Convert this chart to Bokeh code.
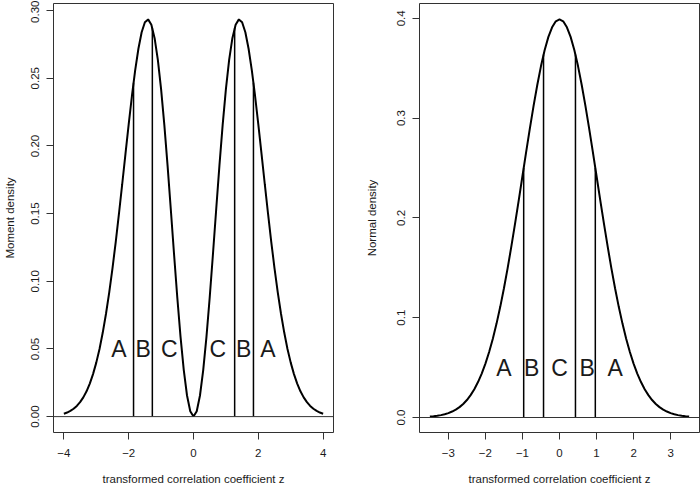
from bokeh.plotting import figure
from bokeh.layouts import row
from bokeh.models import Range1d, FixedTicker, Span, BoxAnnotation
from bokeh.core.properties import value
from bokeh.embed import file_html
from bokeh.resources import INLINE

# ---- Left panel: moment density ----
moment_z = [-4.0, -3.9, -3.8, -3.7, -3.6, -3.5, -3.4, -3.3, -3.2, -3.1, -3.0, -2.9,
            -2.8, -2.7, -2.6, -2.5, -2.4, -2.3, -2.2, -2.1, -2.0,
            -1.9, -1.8, -1.7, -1.6, -1.5, -1.4, -1.3, -1.2, -1.1, -1.0, -0.9, -0.8,
            -0.7, -0.6, -0.5, -0.4, -0.3, -0.2, -0.1, 0.0, 0.1, 0.2, 0.3, 0.4, 0.5,
            0.6, 0.7, 0.8, 0.9, 1.0, 1.1, 1.2, 1.3, 1.4, 1.5, 1.6, 1.7, 1.8, 1.9,
            2.0, 2.1, 2.2, 2.3, 2.4, 2.5, 2.6, 2.7, 2.8, 2.9, 3.0, 3.1, 3.2, 3.3,
            3.4, 3.5, 3.6, 3.7, 3.8, 3.9, 4.0]
moment_d = [0.0021, 0.0030, 0.0042, 0.0058, 0.0079, 0.0107, 0.0142, 0.0187, 0.0244,
            0.0314, 0.0399, 0.0500, 0.0621, 0.0760, 0.0918, 0.1096, 0.1290, 0.1499,
            0.1717, 0.1940, 0.2160, 0.2369, 0.2558, 0.2718, 0.2840, 0.2914, 0.2935,
            0.2896, 0.2796, 0.2636, 0.2420, 0.2155, 0.1854, 0.1530, 0.1200, 0.0880,
            0.0589, 0.0343, 0.0156, 0.0040, 0.0, 0.0040, 0.0156, 0.0343, 0.0589,
            0.0880, 0.1200, 0.1530, 0.1854, 0.2155, 0.2420, 0.2636, 0.2796, 0.2896,
            0.2935, 0.2914, 0.2840, 0.2718, 0.2558, 0.2369, 0.2160, 0.1940, 0.1717,
            0.1499, 0.1290, 0.1096, 0.0918, 0.0760, 0.0621, 0.0500, 0.0399, 0.0314,
            0.0244, 0.0187, 0.0142, 0.0107, 0.0079, 0.0058, 0.0042, 0.0030, 0.0021]
moment_cut_z = [-1.85, -1.27, 1.27, 1.85]
moment_cut_h = [0.2466, 0.2873, 0.2873, 0.2466]
moment_lab_x = [-2.3, -1.55, -0.75, 0.75, 1.55, 2.3]
moment_lab_y = [0.05, 0.05, 0.05, 0.05, 0.05, 0.05]
moment_labels = ["A", "B", "C", "C", "B", "A"]
moment_xticks = [-4, -2, 0, 2, 4]
moment_xtick_labels = ["\u22124", "\u22122", "0", "2", "4"]
moment_yticks = [0.0, 0.05, 0.10, 0.15, 0.20, 0.25, 0.30]
moment_ytick_labels = ["0.00", "0.05", "0.10", "0.15", "0.20", "0.25", "0.30"]

# ---- Right panel: normal density ----
normal_z = [-3.5, -3.4, -3.3, -3.2, -3.1, -3.0, -2.9, -2.8, -2.7, -2.6, -2.5, -2.4,
            -2.3, -2.2, -2.1, -2.0, -1.9, -1.8, -1.7, -1.6, -1.5,
            -1.4, -1.3, -1.2, -1.1, -1.0, -0.9, -0.8, -0.7, -0.6, -0.5, -0.4, -0.3,
            -0.2, -0.1, 0.0, 0.1, 0.2, 0.3, 0.4, 0.5, 0.6, 0.7, 0.8, 0.9, 1.0, 1.1,
            1.2, 1.3, 1.4, 1.5, 1.6, 1.7, 1.8, 1.9, 2.0, 2.1, 2.2, 2.3, 2.4, 2.5,
            2.6, 2.7, 2.8, 2.9, 3.0, 3.1, 3.2, 3.3, 3.4, 3.5]
normal_d = [0.0009, 0.0012, 0.0017, 0.0024, 0.0033, 0.0044, 0.0060, 0.0079, 0.0104,
            0.0136, 0.0175, 0.0224, 0.0283, 0.0355, 0.0440, 0.0540, 0.0656, 0.0790,
            0.0941, 0.1109, 0.1295, 0.1497, 0.1714, 0.1942, 0.2179, 0.2420, 0.2661,
            0.2897, 0.3123, 0.3332, 0.3521, 0.3683, 0.3814, 0.3910, 0.3970, 0.3989,
            0.3970, 0.3910, 0.3814, 0.3683, 0.3521, 0.3332, 0.3123, 0.2897, 0.2661,
            0.2420, 0.2179, 0.1942, 0.1714, 0.1497, 0.1295, 0.1109, 0.0941, 0.0790,
            0.0656, 0.0540, 0.0440, 0.0355, 0.0283, 0.0224, 0.0175, 0.0136, 0.0104,
            0.0079, 0.0060, 0.0044, 0.0033, 0.0024, 0.0017, 0.0012, 0.0009]
normal_cut_z = [-0.967, -0.431, 0.431, 0.967]
normal_cut_h = [0.2501, 0.3637, 0.3637, 0.2501]
normal_lab_x = [-1.5, -0.75, 0.0, 0.75, 1.5]
normal_lab_y = [0.05, 0.05, 0.05, 0.05, 0.05]
normal_labels = ["A", "B", "C", "B", "A"]
normal_xticks = [-3, -2, -1, 0, 1, 2, 3]
normal_xtick_labels = ["\u22123", "\u22122", "\u22121", "0", "1", "2", "3"]
normal_yticks = [0.0, 0.1, 0.2, 0.3, 0.4]
normal_ytick_labels = ["0.0", "0.1", "0.2", "0.3", "0.4"]

FONT = "Liberation Sans"
TXT = "#1a1a1a"


def make_panel(xs, ys, cut_z, cut_h, lab_x, lab_y, labels, xticks, xtl, yticks, ytl,
               ylabel, width, border_left, border_right, ylab_standoff):
    x_pad = (max(xs) - min(xs)) * 0.04
    y_pad = (max(ys) - min(ys)) * 0.04
    p = figure(width=width, height=487, output_backend="svg", toolbar_location=None,
               x_range=Range1d(min(xs) - x_pad, max(xs) + x_pad),
               y_range=Range1d(min(ys) - y_pad, max(ys) + y_pad),
               min_border_left=border_left, min_border_right=border_right,
               min_border_top=3, min_border_bottom=55)
    p.xgrid.visible = False
    p.ygrid.visible = False
    p.outline_line_color = "#333333"
    p.outline_line_width = 1
    p.background_fill_color = "white"
    p.border_fill_color = "white"

    p.xaxis.ticker = FixedTicker(ticks=xticks)
    p.xaxis.major_label_overrides = {t: l for t, l in zip(xticks, xtl)}
    p.yaxis.ticker = FixedTicker(ticks=yticks)
    p.yaxis.major_label_overrides = {t: l for t, l in zip(yticks, ytl)}
    p.yaxis.major_label_orientation = "vertical"
    p.xaxis.axis_label = "transformed correlation coefficient z"
    p.yaxis.axis_label = ylabel
    for ax in (p.xaxis, p.yaxis):
        ax.axis_line_color = None
        ax.minor_tick_line_color = None
        ax.major_tick_in = 0
        ax.major_tick_out = 7
        ax.major_tick_line_color = "#333333"
        ax.major_label_text_font = FONT
        ax.major_label_text_font_size = "11.5px"
        ax.major_label_text_color = TXT
        ax.axis_label_text_font = FONT
        ax.axis_label_text_font_size = "11.5px"
        ax.axis_label_text_font_style = "normal"
        ax.axis_label_text_color = TXT
    p.xaxis.major_label_standoff = 9
    p.xaxis.axis_label_standoff = 13
    p.yaxis.major_label_standoff = 7
    p.yaxis.axis_label_standoff = ylab_standoff

    p.add_layout(BoxAnnotation(fill_alpha=0, fill_color=None, line_color="#333333",
                               line_width=1))
    p.add_layout(Span(location=0, dimension="width", line_color="#333333", line_width=1))
    p.line(xs, ys, line_color="black", line_width=2)
    p.segment(x0=cut_z, y0=[0] * len(cut_z), x1=cut_z, y1=cut_h,
              line_color="black", line_width=1.5)
    p.text(x=lab_x, y=lab_y, text=labels, text_font=value(FONT), text_font_size="23px",
           text_align="center", text_baseline="middle", text_color=TXT)
    return p


left = make_panel(moment_z, moment_d, moment_cut_z, moment_cut_h, moment_lab_x,
                  moment_lab_y, moment_labels, moment_xticks, moment_xtick_labels,
                  moment_yticks, moment_ytick_labels, "Moment density", 350, 53, 17, 13)
right = make_panel(normal_z, normal_d, normal_cut_z, normal_cut_h, normal_lab_x,
                   normal_lab_y, normal_labels, normal_xticks, normal_xtick_labels,
                   normal_yticks, normal_ytick_labels, "Normal density", 350, 69, 1, 17)

layout = row(left, right)
open("out.html", "w").write(file_html(layout, INLINE))
